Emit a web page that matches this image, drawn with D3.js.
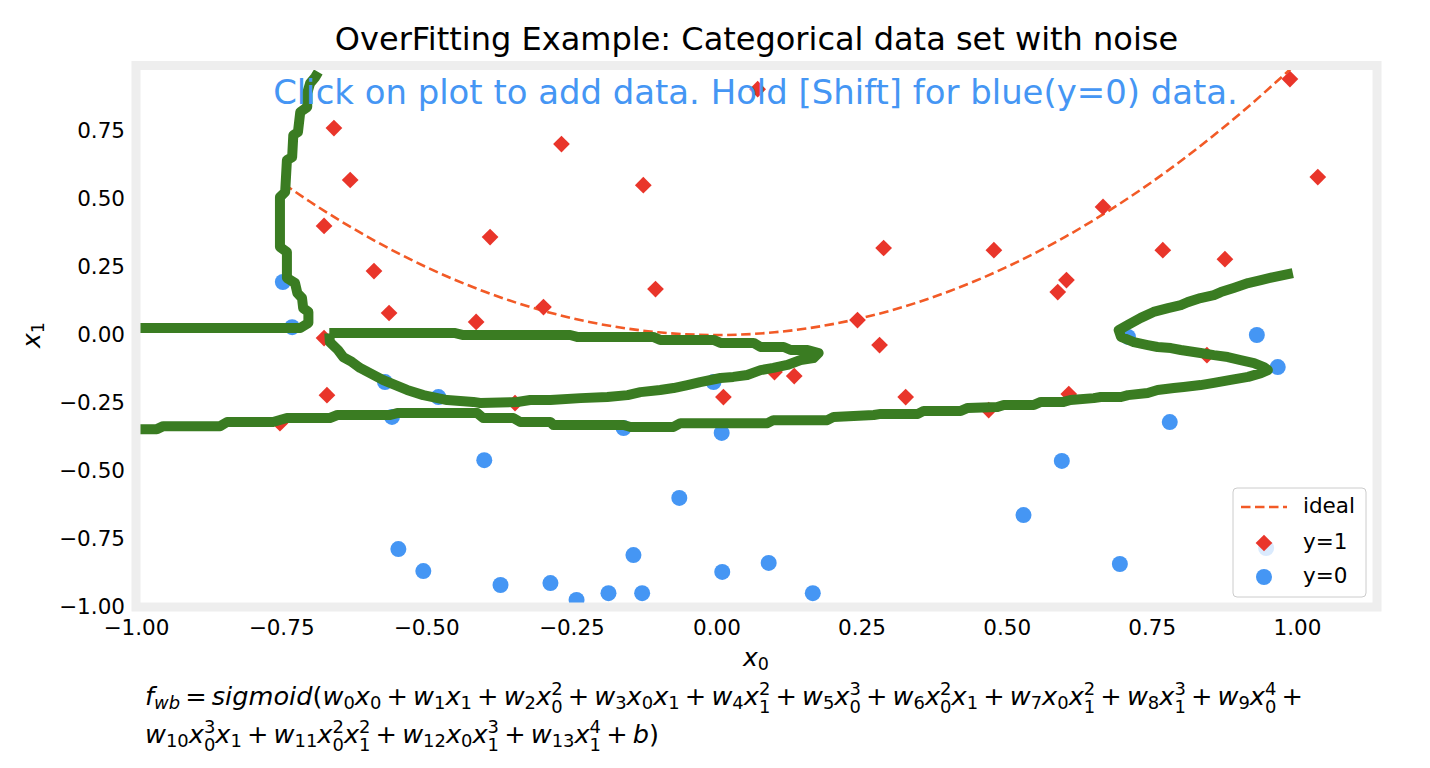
<!DOCTYPE html>
<html><head><meta charset="utf-8">
<script src="https://cdn.jsdelivr.net/npm/d3@7"></script>
<style>body{margin:0;background:#fff} svg{display:block}</style>
</head><body>
<svg id="chart" width="1430" height="768"></svg>
<script>
// ---------------- data ----------------
const xTicks = [-1, -0.75, -0.5, -0.25, 0, 0.25, 0.5, 0.75, 1];
const yTicks = [-1, -0.75, -0.5, -0.25, 0, 0.25, 0.5, 0.75];

const redX = [-0.659,-0.631,-0.676,-0.390,-0.590,-0.564,-0.414,-0.676,-0.671,-0.752,-0.347,-0.298,-0.267,-0.126,-0.105,0.071,0.012,0.100,0.134,0.243,0.281,0.288,0.326,0.478,0.469,0.588,0.603,0.607,0.769,0.876,0.845,0.666,0.988,1.036];
const redY = [0.761,0.570,0.401,0.360,0.235,0.081,0.048,-0.011,-0.221,-0.324,-0.250,0.103,0.702,0.551,0.169,0.904,-0.228,-0.136,-0.151,0.055,-0.037,0.320,-0.228,0.312,-0.276,0.158,0.202,-0.217,0.312,0.279,-0.074,0.471,0.941,0.581];

const blueX = [-0.747,-0.731,-0.571,-0.479,-0.559,-0.400,-0.548,-0.505,-0.372,-0.286,-0.241,-0.186,-0.143,-0.128,-0.064,-0.160,-0.005,0.009,0.010,0.090,0.166,0.529,0.595,0.695,0.781,0.709,0.931,0.967,0.947];
const blueY = [0.195,0.029,-0.173,-0.228,-0.301,-0.460,-0.787,-0.868,-0.919,-0.912,-0.974,-0.949,-0.809,-0.949,-0.599,-0.342,-0.173,-0.360,-0.871,-0.838,-0.949,-0.662,-0.463,-0.842,-0.320,-0.007,0.000,-0.118,-0.783];

const idealX = [-0.745,-0.7,-0.6,-0.5,-0.4,-0.3,-0.2,-0.1,0,0.1,0.2,0.3,0.4,0.5,0.6,0.7,0.8,0.9,0.99];
const idealY = [0.555,0.49,0.36,0.25,0.16,0.09,0.04,0.01,0,0.01,0.04,0.09,0.16,0.25,0.36,0.49,0.64,0.81,0.98];

const boundaryA = [[-0.686,0.967],[-0.691,0.949],[-0.700,0.926],[-0.705,0.890],[-0.705,0.838],[-0.717,0.820],[-0.721,0.746],[-0.729,0.735],[-0.731,0.654],[-0.740,0.643],[-0.743,0.526],[-0.752,0.507],[-0.752,0.324],[-0.740,0.305],[-0.740,0.210],[-0.726,0.191],[-0.722,0.154],[-0.714,0.136],[-0.712,0.099],[-0.703,0.085],[-0.703,0.044],[-0.717,0.026],[-1.0,0.026]];

const boundaryB = [[-0.667,0.007],[-0.450,0.007],[-0.436,0.0],[-0.252,0.0],[-0.240,-0.007],[-0.109,-0.007],[-0.097,-0.018],[-0.005,-0.018],[0.007,-0.029],[0.064,-0.029],[0.076,-0.044],[0.116,-0.044],[0.128,-0.055],[0.157,-0.055],[0.176,-0.066],
 [0.167,-0.085],[0.145,-0.092],[0.122,-0.110],[0.098,-0.121],[0.076,-0.129],[0.053,-0.147],[0.029,-0.154],[0.007,-0.158],[-0.028,-0.173],[-0.050,-0.184],[-0.074,-0.195],[-0.097,-0.202],[-0.131,-0.210],[-0.153,-0.221],[-0.188,-0.228],[-0.234,-0.232],[-0.286,-0.239],[-0.321,-0.239],[-0.343,-0.246],[-0.407,-0.250],[-0.419,-0.246],[-0.464,-0.239],[-0.505,-0.221],[-0.533,-0.202],[-0.574,-0.166],[-0.614,-0.121],[-0.628,-0.099],[-0.643,-0.081],[-0.652,-0.055],[-0.666,-0.026],[-0.667,0.007]];

const boundaryC = [[-1.0,-0.346],[-0.964,-0.346],[-0.953,-0.335],[-0.855,-0.335],[-0.843,-0.320],[-0.764,-0.320],[-0.740,-0.305],[-0.666,-0.305],[-0.653,-0.294],[-0.562,-0.294],[-0.550,-0.287],[-0.412,-0.287],[-0.402,-0.305],[-0.350,-0.305],[-0.338,-0.320],[-0.286,-0.320],[-0.281,-0.331],[-0.160,-0.331],[-0.148,-0.338],[-0.074,-0.338],[-0.062,-0.324],[0.088,-0.324],[0.098,-0.313],[0.191,-0.313],[0.202,-0.301],[0.271,-0.294],[0.283,-0.290],[0.347,-0.290],[0.357,-0.279],[0.421,-0.279],[0.433,-0.268],[0.484,-0.265],[0.495,-0.257],[0.547,-0.257],[0.559,-0.246],[0.598,-0.246],[0.610,-0.239],[0.650,-0.232],[0.662,-0.228],[0.697,-0.228],[0.709,-0.221],[0.743,-0.213],[0.760,-0.202],[0.788,-0.195],[0.805,-0.191],[0.834,-0.184],[0.857,-0.176],[0.886,-0.165],[0.916,-0.154],[0.938,-0.140],[0.950,-0.129],
 [0.943,-0.118],[0.926,-0.103],[0.903,-0.092],[0.881,-0.081],[0.857,-0.074],[0.834,-0.066],[0.800,-0.055],[0.783,-0.048],[0.760,-0.044],[0.743,-0.037],[0.719,-0.026],[0.697,-0.007],[0.693,0.018],
 [0.709,0.037],[0.731,0.063],[0.753,0.085],[0.778,0.099],[0.800,0.110],[0.812,0.121],[0.834,0.136],[0.857,0.147],[0.869,0.158],[0.891,0.173],[0.916,0.191],[0.938,0.202],[0.960,0.213],[0.993,0.228]];

const titleText = "OverFitting Example: Categorical data set with noise";
const noteText = "Click on plot to add data. Hold [Shift] for blue(y=0) data.";
const formulaLine1 = "f_{wb} = sigmoid(w_0x_0 + w_1x_1 + w_2x_0^2 + w_3x_0x_1 + w_4x_1^2 + w_5x_0^3 + w_6x_0^2x_1 + w_7x_0x_1^2 + w_8x_1^3 + w_9x_0^4 +";
const formulaLine2 = "w_{10}x_0^3x_1 + w_{11}x_0^2x_1^2 + w_{12}x_0x_1^3 + w_{13}x_1^4 + b)";
const legendLabels = ["ideal", "y=1", "y=0"];

// ---------------- style ----------------
const C_BLUE = "#4596f4", C_RED = "#e9352a", C_ORANGE = "#f25a26", C_GREEN = "#3a7c22", C_FRAME = "#eeeeee";
const FONT = "DejaVu Sans";

const svg = d3.select("#chart").style("font-family", FONT);
const x = d3.scaleLinear().domain([-1, 1.138]).range([136, 1377]);
const y = d3.scaleLinear().domain([-1, 0.991]).range([607, 65.5]);

svg.append("defs").append("clipPath").attr("id","clip")
  .append("rect").attr("x",136).attr("y",65.5).attr("width",1241).attr("height",541.5);

// title
svg.append("text").attr("x",756.5).attr("y",50).attr("text-anchor","middle")
  .attr("font-size",32).attr("fill","#000").text(titleText);

// axes
const xAxis = svg.append("g").attr("transform","translate(0,607)")
  .call(d3.axisBottom(x).tickValues(xTicks).tickFormat(d3.format(".2f")).tickSize(0).tickPadding(12.7));
const yAxis = svg.append("g").attr("transform","translate(136,0)")
  .call(d3.axisLeft(y).tickValues(yTicks).tickFormat(d3.format(".2f")).tickSize(0).tickPadding(11));
[xAxis,yAxis].forEach(a=>{ a.select(".domain").remove(); a.selectAll("text").attr("font-size",21.5).attr("font-family",FONT).attr("fill","#000"); });

const plot = svg.append("g").attr("clip-path","url(#clip)");

// ideal curve
const idealPts = idealX.map((v,i)=>[v, idealY[i]]);
plot.append("path").datum(idealPts)
  .attr("d", d3.line().x(d=>x(d[0])).y(d=>y(d[1])).curve(d3.curveMonotoneX))
  .attr("fill","none").attr("stroke",C_ORANGE).attr("stroke-width",2.6).attr("stroke-dasharray","9.5,4.5");

// scatter
const diamond = d3.symbol().type(d3.symbolSquare).size(140);
plot.selectAll(".red").data(redX.map((v,i)=>[v,redY[i]])).join("path")
  .attr("d", diamond).attr("fill", C_RED)
  .attr("transform", d=>`translate(${x(d[0])},${y(d[1])}) rotate(45)`);
plot.selectAll(".blue").data(blueX.map((v,i)=>[v,blueY[i]])).join("circle")
  .attr("cx", d=>x(d[0])).attr("cy", d=>y(d[1])).attr("r", 8).attr("fill", C_BLUE);

// decision boundary
const bLine = d3.line().x(d=>x(d[0])).y(d=>y(d[1]));
[boundaryA, boundaryB, boundaryC].forEach(seg=>{
  plot.append("path").datum(seg).attr("d", bLine).attr("fill","none")
    .attr("stroke", C_GREEN).attr("stroke-width", 10).attr("stroke-linejoin","round").attr("stroke-linecap","butt");
});

// note text
svg.append("text").attr("x",755.5).attr("y",104).attr("text-anchor","middle")
  .attr("font-size",33.9).attr("fill",C_BLUE).text(noteText);

// frame
svg.append("rect").attr("x",136).attr("y",65.5).attr("width",1241).attr("height",541.5)
  .attr("fill","none").attr("stroke",C_FRAME).attr("stroke-width",9);

// legend
const lg = svg.append("g");
lg.append("rect").attr("x",1233).attr("y",488).attr("width",133).attr("height",109).attr("rx",4)
  .attr("fill","#fff").attr("fill-opacity",0.8).attr("stroke","#cccccc").attr("stroke-width",1);
lg.append("line").attr("x1",1241).attr("x2",1287).attr("y1",507).attr("y2",507)
  .attr("stroke",C_ORANGE).attr("stroke-width",2.6).attr("stroke-dasharray","9.5,4.5");
lg.append("path").attr("d",diamond).attr("fill",C_RED).attr("transform","translate(1264,543) rotate(45)");
lg.append("circle").attr("cx",1264).attr("cy",577).attr("r",8).attr("fill",C_BLUE);
[513,549,583].forEach((b,i)=>lg.append("text").attr("x",1303).attr("y",b).attr("font-size",21.5).text(legendLabels[i]));

// ---------------- math text ----------------
function parseMath(s){
  const atoms=[]; let i=0;
  const group=()=>{ if(s[i]==='{'){ const j=s.indexOf('}',i); const g=s.slice(i+1,j); i=j+1; return g; } return s[i++]; };
  while(i<s.length){
    const c=s[i];
    if(c===' '){ i++; continue; }
    if(c==='_'){ i++; atoms[atoms.length-1].sub=group(); continue; }
    if(c==='^'){ i++; atoms[atoms.length-1].sup=group(); continue; }
    atoms.push({t:c}); i++;
  }
  return atoms;
}
function drawMath(parent, str, x0, y0, fs, anchor){
  const atoms = parseMath(str);
  const grp = parent.append("g").attr("font-family",FONT).attr("fill","#000");
  const isLetter = c => /[A-Za-z]/.test(c);
  const put = (ch, px, py, size) => grp.append("text").attr("x",px).attr("y",py).attr("font-size",size)
      .attr("font-style", isLetter(ch) ? "italic" : "normal").text(ch).node().getComputedTextLength();
  let cx = 0;
  for(const a of atoms){
    const bin = a.t==='+' || a.t==='=';
    if(bin) cx += fs*0.2;
    cx += put(a.t, cx, 0, fs);
    if(bin) cx += fs*0.2;
    const both = a.sub && a.sup, ss = fs*0.7;
    let subW=0, supW=0;
    if(a.sub){ let sx=cx; for(const ch of a.sub) sx += put(ch, sx, both ? fs*0.32 : fs*0.16, ss); subW = sx-cx; }
    if(a.sup){ let sx=cx; for(const ch of a.sup) sx += put(ch, sx, -fs*0.38, ss); supW = sx-cx; }
    cx += Math.max(subW, supW);
  }
  const ox = anchor==='middle' ? x0 - cx/2 : x0;
  grp.attr("transform", `translate(${ox},${y0})`);
  return cx;
}

drawMath(svg, "x_0", 756, 666, 25, "middle");
const yl = svg.append("g").attr("transform","translate(40,335) rotate(-90)");
drawMath(yl, "x_1", 0, 0, 25, "middle");

drawMath(svg, formulaLine1, 145, 705, 25.6, "start");
drawMath(svg, formulaLine2, 145, 743, 25.6, "start");
</script>
</body></html>
